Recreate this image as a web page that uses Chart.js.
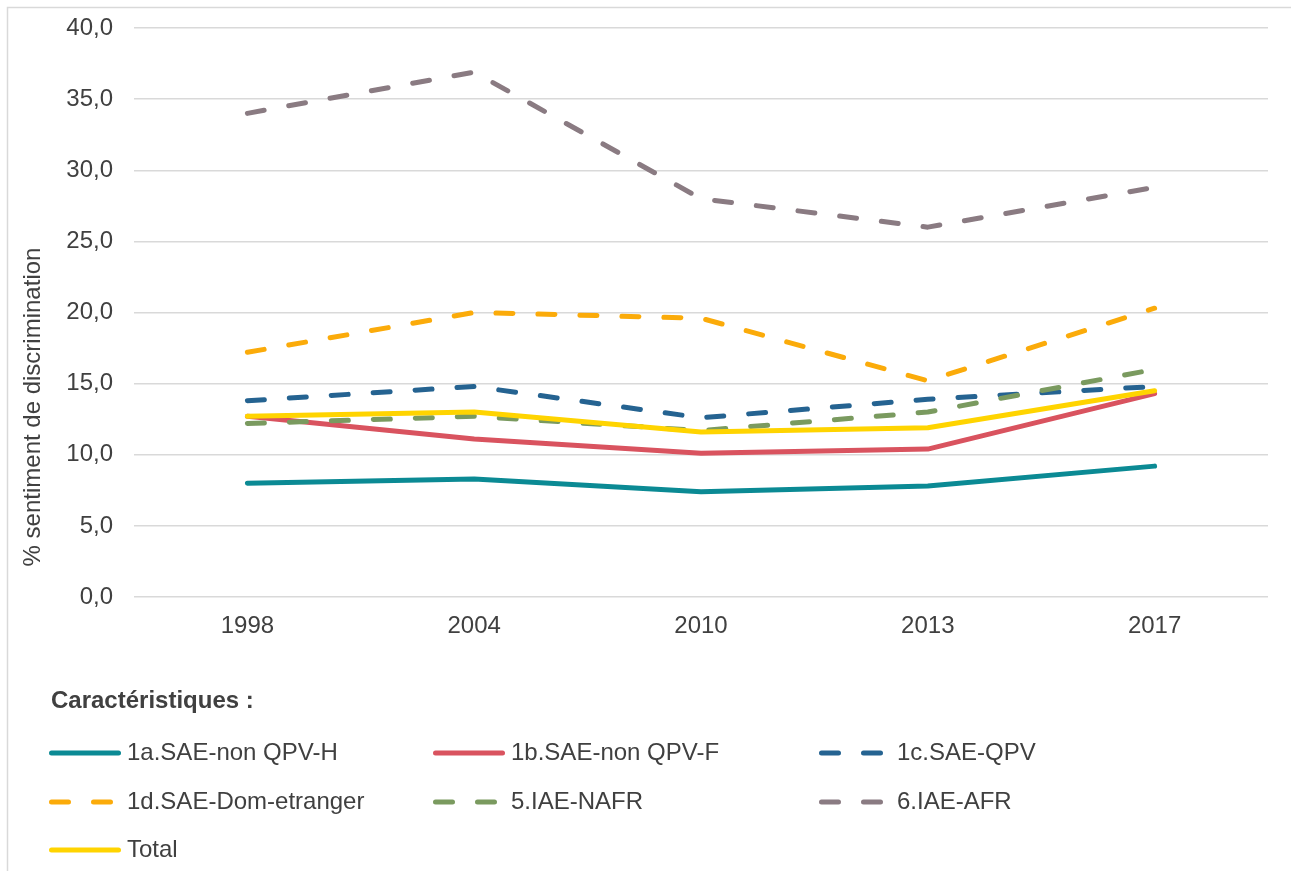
<!DOCTYPE html>
<html>
<head>
<meta charset="utf-8">
<script src="https://cdn.jsdelivr.net/npm/chart.js@4.4.0/dist/chart.umd.min.js"></script>
<style>
    html, body { margin: 0; padding: 0; background: #fff; }
</style>
</head>
<body>
<canvas id="myChart" width="1291" height="871"></canvas>
<script>
'use strict';
// data
const years = ['1998', '2004', '2010', '2013', '2017'];
const saeNonQpvH = [8.0, 8.3, 7.4, 7.8, 9.2];
const saeNonQpvF = [12.7, 11.1, 10.1, 10.4, 14.3];
const saeQpv = [13.8, 14.8, 12.6, 13.9, 14.8];
const saeDomEtranger = [17.2, 20.0, 19.6, 15.2, 20.3];
const iaeNafr = [12.2, 12.7, 11.7, 13.0, 16.0];
const iaeAfr = [34.0, 36.9, 28.0, 26.0, 28.8];
const total = [12.7, 13.0, 11.6, 11.9, 14.5];
const seriesNames = [
    '1a.SAE-non QPV-H',
    '1b.SAE-non QPV-F',
    '1c.SAE-QPV',
    '1d.SAE-Dom-etranger',
    '5.IAE-NAFR',
    '6.IAE-AFR',
    'Total',
];
const yTicks = [0, 5, 10, 15, 20, 25, 30, 35, 40];
const yTitle = '% sentiment de discrimination';
const legendTitle = 'Caractéristiques :';

const font = '"Liberation Sans", Arial, sans-serif';
const textColor = '#404040';
const dash = [17, 25];

function line(label, data, color, dashed, order) {
    return {
        label: label,
        data: data,
        borderColor: color,
        backgroundColor: color,
        borderWidth: 5,
        borderDash: dashed ? dash : [],
        borderCapStyle: 'round',
        borderJoinStyle: 'round',
        pointRadius: 0,
        tension: 0,
        fill: false,
        order: order,
    };
}

const seriesData = [saeNonQpvH, saeNonQpvF, saeQpv, saeDomEtranger, iaeNafr, iaeAfr, total];
const colors = ['#0b8a94', '#d9535f', '#256391', '#fbab0a', '#7a9a5f', '#8a7b82', '#ffd400'];
const dashed = [false, false, true, true, true, true, false];

const datasets = seriesData.map(function (d, i) {
    return line(seriesNames[i], d, colors[i], dashed[i], seriesData.length - i);
});

//Frame, y title and legend
const extras = {
    id: 'extras',
    beforeDraw(chart) {
        const ctx = chart.ctx;
        ctx.save();
        ctx.strokeStyle = '#d9d9d9';
        ctx.lineWidth = 1.5;
        ctx.strokeRect(7.5, 7.5, 1400, 1000);
        ctx.restore();
    },
    afterDraw(chart) {
        const ctx = chart.ctx;
        ctx.save();
        ctx.fillStyle = textColor;
        ctx.translate(33, 407);
        ctx.rotate(-Math.PI / 2);
        ctx.font = '24px ' + font;
        ctx.textAlign = 'center';
        ctx.textBaseline = 'middle';
        ctx.fillText(yTitle, 0, 0);
        ctx.restore();

        ctx.save();
        ctx.fillStyle = textColor;
        ctx.font = 'bold 24px ' + font;
        ctx.textAlign = 'left';
        ctx.textBaseline = 'middle';
        ctx.fillText(legendTitle, 51, 701);

        const colX = [49, 433, 819];
        const rowY = [753, 802, 850];
        ctx.font = '24px ' + font;
        chart.data.datasets.forEach(function (ds, i) {
            const x = colX[i % 3];
            const y = rowY[Math.floor(i / 3)];
            ctx.beginPath();
            ctx.strokeStyle = ds.borderColor;
            ctx.lineWidth = ds.borderWidth;
            ctx.lineCap = 'round';
            ctx.setLineDash(ds.borderDash);
            ctx.moveTo(x + 2.5, y);
            ctx.lineTo(x + 69.5, y);
            ctx.stroke();
            ctx.setLineDash([]);
            ctx.fillText(ds.label, x + 78, y);
        });
        ctx.restore();
    },
};

Chart.defaults.font.family = font;
Chart.defaults.font.size = 24;
Chart.defaults.color = textColor;

const config = {
    type: 'line',
    data: { labels: years, datasets: datasets },
    plugins: [extras],
    options: {
        responsive: false,
        animation: false,
        devicePixelRatio: 1,
        layout: { padding: { top: 28, right: 23, left: 0, bottom: 0 } },
        plugins: {
            legend: { display: false },
            tooltip: { enabled: false },
        },
        scales: {
            x: {
                offset: true,
                grid: { display: false, drawTicks: false },
                border: { display: false },
                ticks: { padding: 15, color: textColor },
                afterFit: function (s) {
                    s.height = 274;
                    s.paddingLeft = 0;
                    s.paddingRight = 0;
                },
            },
            y: {
                min: 0,
                max: 40,
                afterBuildTicks: function (s) {
                    s.ticks = yTicks.map(function (v) { return { value: v }; });
                },
                grid: { color: '#d9d9d9', lineWidth: 1.5, drawTicks: false },
                border: { display: false },
                ticks: {
                    padding: 21,
                    color: textColor,
                    callback: function (v) { return Number(v).toFixed(1).replace('.', ','); },
                },
                afterFit: function (s) {
                    s.width = 134;
                    s.paddingTop = 0;
                    s.paddingBottom = 0;
                },
            },
        },
    },
};
const myChart = new Chart(document.getElementById('myChart'), config);
</script>
</body>
</html>
